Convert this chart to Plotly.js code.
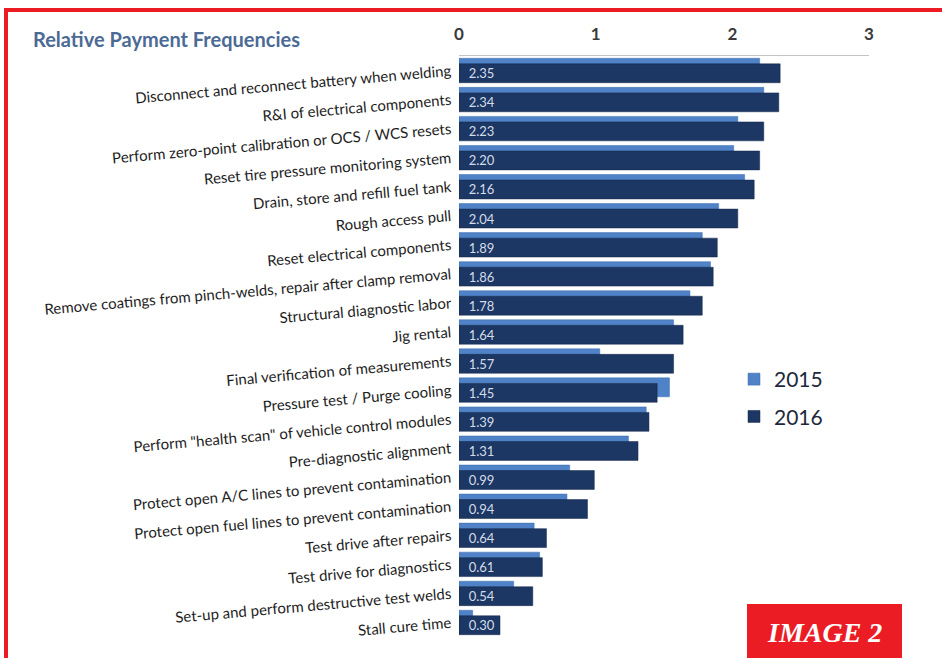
<!DOCTYPE html>
<html>
<head>
<meta charset="utf-8">
<script src="https://cdn.plot.ly/plotly-3.0.1.min.js"></script>
<style>
  html, body { margin: 0; padding: 0; background: #ffffff; }
  #chart { width: 942px; height: 658px; }
</style>
</head>
<body>
<div id="chart"></div>
<script>
// ---- data ----
const categories = [
  "Disconnect and reconnect battery when welding",
  "R&I of electrical components",
  "Perform zero-point calibration or OCS / WCS resets",
  "Reset tire pressure monitoring system",
  "Drain, store and refill fuel tank",
  "Rough access pull",
  "Reset electrical components",
  "Remove coatings from pinch-welds, repair after clamp removal",
  "Structural diagnostic labor",
  "Jig rental",
  "Final verification of measurements",
  "Pressure test / Purge cooling",
  "Perform \"health scan\" of vehicle control modules",
  "Pre-diagnostic alignment",
  "Protect open A/C lines to prevent contamination",
  "Protect open fuel lines to prevent contamination",
  "Test drive after repairs",
  "Test drive for diagnostics",
  "Set-up and perform destructive test welds",
  "Stall cure time"
];
const values2015 = [2.20, 2.23, 2.04, 2.01, 2.09, 1.90, 1.78, 1.84, 1.69, 1.57,
                    1.03, 1.54, 1.37, 1.24, 0.81, 0.79, 0.55, 0.59, 0.40, 0.10];
const values2016 = [2.35, 2.34, 2.23, 2.20, 2.16, 2.04, 1.89, 1.86, 1.78, 1.64,
                    1.57, 1.45, 1.39, 1.31, 0.99, 0.94, 0.64, 0.61, 0.54, 0.30];
const seriesNames = ["2015", "2016"];
const xTicks = [0, 1, 2, 3];
const chartTitle = "Relative Payment Frequencies";
const badgeText = "IMAGE 2";

// ---- layout geometry ----
const W = 942, H = 658;
const M = { l: 459, r: 73, t: 56, b: 21 };
const pw = W - M.l - M.r, ph = H - M.t - M.b;
const px = x => (x - M.l) / pw;          // pixel -> paper x
const py = y => (H - M.b - y) / ph;      // pixel -> paper y

const red = "#ec1c24";

const traces = [
  {
    type: "bar", orientation: "h", name: seriesNames[0],
    y: categories, x: values2015,
    width: 0.65, offset: -0.42,
    marker: { color: "#4f82c6", line: { color: "#3f6fae", width: 0.5 } },
    legendgroup: "a", hoverinfo: "x+y"
  },
  {
    type: "bar", orientation: "h", name: seriesNames[1],
    y: categories, x: values2016,
    width: 0.65, offset: -0.23,
    marker: { color: "#1c3763", line: { color: "#14284a", width: 0.5 } },
    text: values2016.map(v => "\u00a0\u00a0" + v.toFixed(2)),
    textposition: "inside", insidetextanchor: "start",
    constraintext: "none",
    textfont: { family: "Lato, sans-serif", size: 13, color: "#d4dcea" },
    insidetextfont: { family: "Lato, sans-serif", size: 13, color: "#d4dcea" },
    textangle: 0,
    legendgroup: "b", hoverinfo: "x+y"
  }
];

const layout = {
  width: W, height: H,
  margin: M,
  paper_bgcolor: "#ffffff", plot_bgcolor: "#ffffff",
  barmode: "overlay",
  showlegend: true,
  title: {
    text: "<b>" + chartTitle + "</b>",
    xref: "container", yref: "container",
    x: 33 / W, xanchor: "left",
    y: 1 - 40 / H, yanchor: "middle",
    font: { family: "Lato, sans-serif", size: 20, color: "#4b6a95" }
  },
  xaxis: {
    side: "top", range: [0, 3],
    tickvals: xTicks, ticktext: xTicks.map(v => "<b>" + v + "</b>"),
    showgrid: false, zeroline: false,
    showline: true, linecolor: "#c4c4c4", linewidth: 1.5,
    ticks: "", ticklabelstandoff: 8,
    tickfont: { family: "Lato, sans-serif", size: 17, color: "#3a3a3a" },
    fixedrange: true
  },
  yaxis: {
    type: "category", autorange: "reversed",
    showgrid: false, zeroline: false, showline: false, ticks: "",
    tickangle: -5, ticklabelstandoff: 7,
    tickfont: { family: "Lato, sans-serif", size: 15, color: "#1e1e1e" },
    fixedrange: true
  },
  legend: {
    x: px(734), xanchor: "left",
    y: py(359), yanchor: "top",
    traceorder: "grouped", tracegroupgap: 7,
    font: { family: "Lato, sans-serif", size: 21, color: "#1e2a3c" },
    bgcolor: "rgba(0,0,0,0)"
  },
  shapes: [
    // red frame (top and left edges)
    { type: "rect", xref: "paper", yref: "paper",
      x0: px(4), x1: px(W), y0: py(12), y1: py(8),
      fillcolor: red, line: { width: 0 }, layer: "above" },
    { type: "rect", xref: "paper", yref: "paper",
      x0: px(4), x1: px(8), y0: py(H), y1: py(8),
      fillcolor: red, line: { width: 0 }, layer: "above" },
    // badge
    { type: "rect", xref: "paper", yref: "paper",
      x0: px(747), x1: px(902), y0: py(H), y1: py(604),
      fillcolor: red, line: { width: 0 }, layer: "above" }
  ],
  annotations: [
    { xref: "paper", yref: "paper",
      x: px(824.5), y: py(632), xanchor: "center", yanchor: "middle",
      text: "<b><i>" + badgeText + "</i></b>", showarrow: false,
      font: { family: "Liberation Serif, DejaVu Serif, serif", size: 28, color: "#ffffff" } }
  ]
};

Plotly.newPlot("chart", traces, layout, { displayModeBar: false, staticPlot: true });
</script>
</body>
</html>
